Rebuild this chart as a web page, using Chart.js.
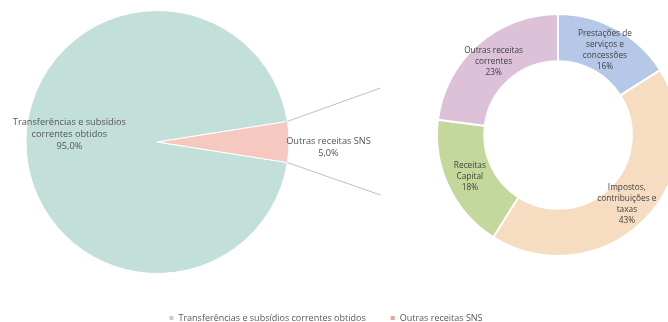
<!DOCTYPE html>
<html>
<head>
<meta charset="utf-8">
<script src="https://cdn.jsdelivr.net/npm/chart.js@4.4.1/dist/chart.umd.min.js"></script>
<style>
  html, body { margin: 0; padding: 0; background: #fff; overflow: hidden; }
  #wrap { position: relative; width: 668px; height: 322px; overflow: hidden; }
  #pie { position: absolute; left: 0; top: 0; }
  #donut { position: absolute; left: 430px; top: 0; }
</style>
</head>
<body>
<div id="wrap">
  <canvas id="pie" width="668" height="322"></canvas>
  <canvas id="donut" width="256" height="270"></canvas>
</div>
<script>
// pie data
const pieLabels = ['Transferências e subsídios correntes obtidos', 'Outras receitas SNS'];
const pieLines = [['Transferências e subsídios', 'correntes obtidos'], ['Outras receitas SNS']];
const pieValues = [95.0, 5.0];
const pieColors = ['#c3dfd9', '#f5c9bf'];

// doughnut data (breakdown of "Outras receitas SNS")
const donutLabels = ['Prestações de serviços e concessões', 'Impostos, contribuições e taxas', 'Receitas Capital', 'Outras receitas correntes'];
const donutLines = [['Prestações de', 'serviços e', 'concessões'], ['Impostos,', 'contribuições e', 'taxas'], ['Receitas', 'Capital'], ['Outras receitas', 'correntes']];
const donutValues = [16, 43, 18, 23];
const donutColors = ['#b5c8e8', '#f6ddc1', '#c4d89c', '#dcc1d8'];

const FONT = '"Open Sans", sans-serif';

function fmtPct(v, dec) {
    return v.toFixed(dec).replace('.', ',') + '%';
}

function drawLines(ctx, lines, x, y, lh) {
    const top = y - (lines.length - 1) * lh / 2;
    lines.forEach((t, i) => ctx.fillText(t, x, top + i * lh));
}

// pie: labels, connector lines, legend
const pieExtras = {
    id: 'pieExtras',
    afterDatasetsDraw(chart) {
        const ctx = chart.ctx;
        const arcs = chart.getDatasetMeta(0).data;
        const place = [{ f: 0.67, dy: -8 }, { f: 1.3, dy: 5 }];
        ctx.save();
        // connector lines from the small slice towards the doughnut
        const a = arcs[1].getProps(['x', 'y', 'startAngle', 'endAngle', 'outerRadius'], true);
        ctx.strokeStyle = '#bfbfbf';
        ctx.lineWidth = 1;
        [[a.startAngle, -54], [a.endAngle, 53]].forEach(([ang, dy]) => {
            ctx.beginPath();
            ctx.moveTo(a.x + Math.cos(ang) * a.outerRadius, a.y + Math.sin(ang) * a.outerRadius);
            ctx.lineTo(a.x + 223, a.y + dy);
            ctx.stroke();
        });
        // slice labels
        ctx.font = '9.2px ' + FONT;
        ctx.fillStyle = '#555555';
        ctx.textAlign = 'center';
        ctx.textBaseline = 'middle';
        arcs.forEach((arc, i) => {
            const p = arc.getProps(['x', 'y', 'startAngle', 'endAngle', 'outerRadius'], true);
            const mid = (p.startAngle + p.endAngle) / 2;
            const x = p.x + Math.cos(mid) * p.outerRadius * place[i].f;
            const y = p.y + Math.sin(mid) * p.outerRadius * place[i].f + place[i].dy;
            drawLines(ctx, pieLines[i].concat(fmtPct(pieValues[i], 1)), x, y, 12);
        });
        // legend
        ctx.font = '9px ' + FONT;
        const box = 4, gapIn = 5, gapOut = 25;
        const widths = pieLabels.map(t => ctx.measureText(t).width);
        const total = widths.reduce((s, w) => s + box + gapIn + w, 0) + gapOut * (pieLabels.length - 1);
        let x = chart.width / 2 - 8 - total / 2;
        const y = 318;
        ctx.textAlign = 'left';
        pieLabels.forEach((t, i) => {
            ctx.fillStyle = i === 0 ? '#c0d0cc' : '#ef9f8f';
            ctx.fillRect(x, y - box / 2, box, box);
            ctx.fillStyle = '#595959';
            ctx.fillText(t, x + box + gapIn, y);
            x += box + gapIn + widths[i] + gapOut;
        });
        ctx.restore();
    }
};

new Chart(document.getElementById('pie'), {
    type: 'pie',
    data: {
        labels: pieLabels,
        datasets: [{
            data: pieValues,
            backgroundColor: pieColors,
            borderColor: '#ffffff',
            borderWidth: 1
        }]
    },
    options: {
        responsive: false,
        animation: false,
        rotation: 99,
        layout: { padding: { left: 25, right: 378, top: 10, bottom: 48 } },
        plugins: { legend: { display: false }, tooltip: { enabled: false } }
    },
    plugins: [pieExtras]
});

// doughnut labels at mid radius
const donutLabelsPlugin = {
    id: 'donutLabels',
    afterDatasetsDraw(chart) {
        const ctx = chart.ctx;
        ctx.save();
        ctx.font = '8.3px ' + FONT;
        ctx.fillStyle = '#3f3f3f';
        ctx.textAlign = 'center';
        ctx.textBaseline = 'middle';
        chart.getDatasetMeta(0).data.forEach((arc, i) => {
            const p = arc.tooltipPosition(true);
            drawLines(ctx, donutLines[i].concat(donutValues[i] + '%'), p.x, p.y, 11);
        });
        ctx.restore();
    }
};

new Chart(document.getElementById('donut'), {
    type: 'doughnut',
    data: {
        labels: donutLabels,
        datasets: [{
            data: donutValues,
            backgroundColor: donutColors,
            borderColor: '#ffffff',
            borderWidth: 2
        }]
    },
    options: {
        responsive: false,
        animation: false,
        cutout: '61%',
        layout: { padding: { left: 6, right: 6, top: 13, bottom: 13 } },
        plugins: { legend: { display: false }, tooltip: { enabled: false } }
    },
    plugins: [donutLabelsPlugin]
});
</script>
</body>
</html>
